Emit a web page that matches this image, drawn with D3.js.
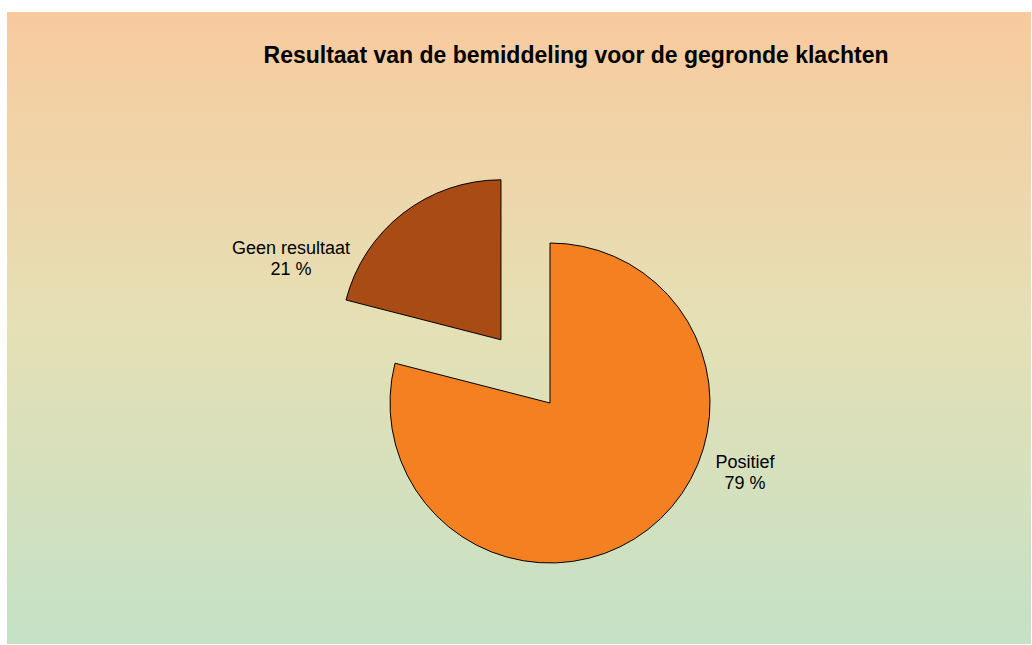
<!DOCTYPE html>
<html>
<head>
<meta charset="utf-8">
<script src="https://cdn.jsdelivr.net/npm/d3@7"></script>
<style>
  html, body { margin: 0; padding: 0; background: #fff; }
  svg { display: block; }
</style>
</head>
<body>
<svg id="chart" width="1032" height="645"></svg>
<script>
// chart data
const categories = ['Positief', 'Geen resultaat'];
const values = [79, 21];
const colors = ['#F58022', '#A84B15'];
const exploded = [0, 1];
const title = 'Resultaat van de bemiddeling voor de gegronde klachten';

const width = 1032, height = 645;
const cx = 550, cy = 403, radius = 160, explode = 80;

const svg = d3.select('#chart');

// background gradient
const defs = svg.append('defs');
const grad = defs.append('linearGradient')
    .attr('id', 'bg')
    .attr('x1', 0).attr('y1', 0).attr('x2', 0).attr('y2', 1);
grad.append('stop').attr('offset', '0%').attr('stop-color', '#F8CA9E');
grad.append('stop').attr('offset', '50%').attr('stop-color', '#E5E0B5');
grad.append('stop').attr('offset', '100%').attr('stop-color', '#C4E1C6');

svg.append('rect')
    .attr('x', 7).attr('y', 12)
    .attr('width', 1024).attr('height', 632)
    .attr('fill', 'url(#bg)');

svg.append('text')
    .attr('x', 576)
    .attr('y', 63)
    .attr('text-anchor', 'middle')
    .style('font-family', '"Liberation Sans", Arial, sans-serif')
    .style('font-weight', 'bold')
    .style('font-size', '23px')
    .text(title);

const pie = d3.pie().sort(null).value(function(d) { return d; });
const arcs = pie(values);
const arc = d3.arc().innerRadius(0).outerRadius(radius);

function offset(d, i) {
    let mid = (d.startAngle + d.endAngle) / 2;
    let k = exploded[i] ? explode : 0;
    return [Math.sin(mid) * k, -Math.cos(mid) * k];
}

const g = svg.append('g').attr('transform', 'translate(' + cx + ',' + cy + ')');

g.selectAll('path')
    .data(arcs)
    .enter().append('path')
    .attr('d', arc)
    .attr('transform', function(d, i) {
        let o = offset(d, i);
        return 'translate(' + o[0] + ',' + o[1] + ')';
    })
    .attr('fill', function(d, i) { return colors[i]; })
    .attr('stroke', '#000')
    .attr('stroke-width', 1);

// label placement relative to pie centre
const labelPos = [[195, 65], [-259, -149]];

const labels = g.selectAll('text.lbl')
    .data(arcs)
    .enter().append('text')
    .attr('class', 'lbl')
    .attr('text-anchor', 'middle')
    .style('font-family', '"Liberation Sans", Arial, sans-serif')
    .style('font-size', '18px')
    .attr('transform', function(d, i) {
        return 'translate(' + labelPos[i][0] + ',' + labelPos[i][1] + ')';
    });

labels.append('tspan')
    .attr('x', 0).attr('y', 0)
    .text(function(d, i) { return categories[i]; });
labels.append('tspan')
    .attr('x', 0).attr('y', 21)
    .text(function(d, i) { return values[i] + ' %'; });
</script>
</body>
</html>
